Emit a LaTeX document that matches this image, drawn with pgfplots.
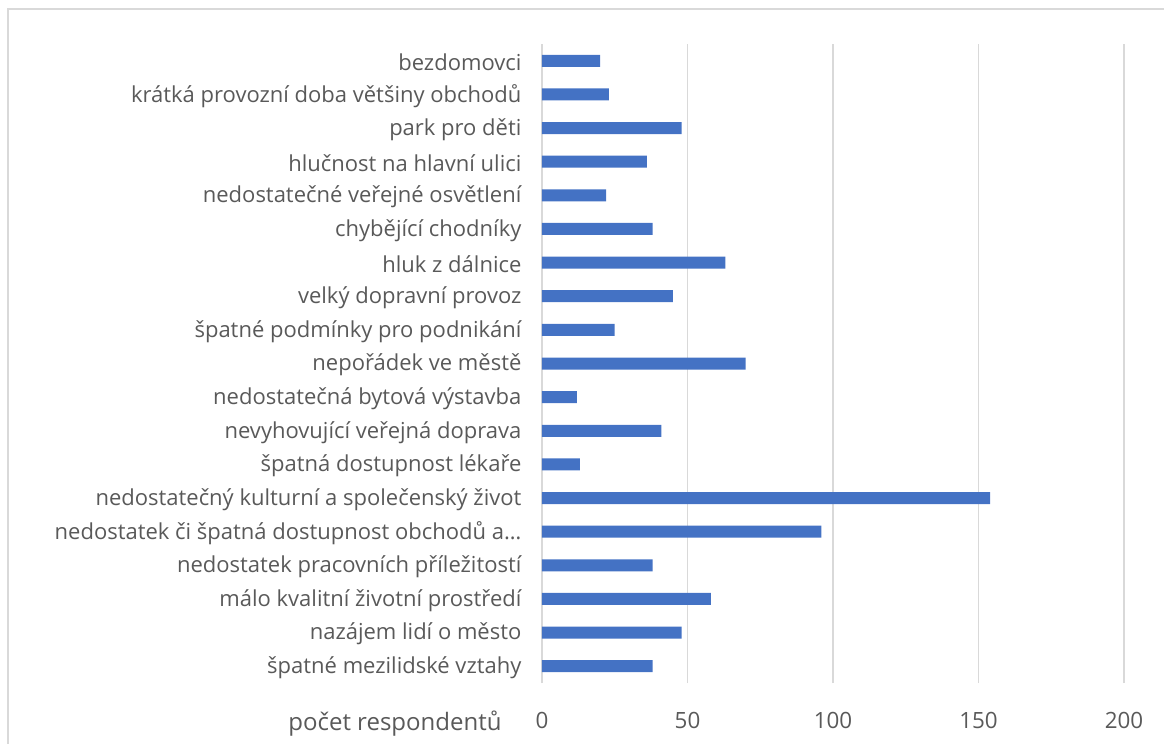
\documentclass[border=0pt]{standalone}
\usepackage{fontspec}
\setmainfont{Open Sans}
\usepackage{pgfplots}
\pgfplotsset{compat=1.18}
\definecolor{barblue}{HTML}{4472C4}
\definecolor{gridgray}{HTML}{D9D9D9}
\definecolor{txtgray}{HTML}{595959}
\begin{document}
\begin{tikzpicture}
% 1 px of the reference = 0.5pt
\begin{axis}[
  at={(271pt,-341.5pt)}, anchor=south west,
  scale only axis, width=291pt, height=319.5pt,
  xbar, bar width=6pt,
  xmin=0, xmax=200, ymin=-0.5, ymax=18.5,
  xtick={0,50,...,200},
  ytick={0,...,18},
  yticklabels={
    špatné mezilidské vztahy,
    nazájem lidí o město,
    málo kvalitní životní prostředí,
    nedostatek pracovních příležitostí,
    nedostatek či špatná dostupnost obchodů a…,
    nedostatečný kulturní a společenský život,
    špatná dostupnost lékaře,
    nevyhovující veřejná doprava,
    nedostatečná bytová výstavba,
    nepořádek ve městě,
    špatné podmínky pro podnikání,
    velký dopravní provoz,
    hluk z dálnice,
    chybějící chodníky,
    nedostatečné veřejné osvětlení,
    hlučnost na hlavní ulici,
    park pro děti,
    krátká provozní doba většiny obchodů,
    bezdomovci},
  /pgf/number format/assume math mode=true,
  xmajorgrids, major grid style={gridgray, line width=0.75pt},
  axis line style={draw=none}, tick style={draw=none},
  ticklabel style={font=\fontsize{11}{13}\selectfont, text=txtgray},
  yticklabel style={xshift=-2.5pt, yshift=-0.8pt},
  xticklabel style={yshift=-11pt, font=\fontsize{11.2}{13}\selectfont},
  xlabel={počet respondentů},
  xlabel style={at={(axis description cs:-0.2526,-0.063)}, anchor=center,
    font=\fontsize{12}{14}\selectfont, text=txtgray},
]
\addplot[fill=barblue, draw=none] coordinates {
  (38,0) (48,1) (58,2) (38,3) (96,4) (154,5) (13,6) (41,7) (12,8) (70,9)
  (25,10) (45,11) (63,12) (38,13) (22,14) (36,15) (48,16) (23,17) (20,18)
};
\end{axis}
\draw[gridgray, line width=0.75pt] (4pt,-420pt) -- (4pt,-4.5pt) -- (620pt,-4.5pt);
\pgfresetboundingbox
\useasboundingbox (0,0) rectangle (582pt,-372pt);
\end{tikzpicture}
\end{document}
